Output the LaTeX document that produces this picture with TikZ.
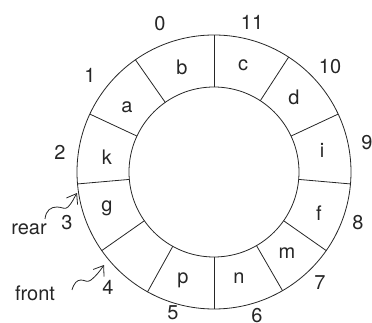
\documentclass[tikz,border=0pt]{standalone}
\usepackage{fontspec}
\setmainfont{TeX Gyre Heros}
\usetikzlibrary{arrows.meta}
\begin{document}
\begin{tikzpicture}[x=1pt,y=1pt,
  ring/.style={line width=0.8pt,draw=black!85},
  cell/.style={font=\fontsize{20}{22}\selectfont,text=black!85,inner sep=0pt},
  idx/.style={font=\fontsize{20}{22}\selectfont,text=black!85,inner sep=0pt},
  tag/.style={font=\fontsize{20}{22}\selectfont,text=black!85,inner sep=0pt},
  ptr/.style={line width=0.8pt,draw=black!85,-{Straight Barb[length=9pt,width=13pt]}}]
\useasboundingbox (-214,-151) rectangle (158,172);
\coordinate (O) at (0,0);
\draw[ring] (O) circle[radius=137];
\draw[ring] (O) circle[radius=85];
\foreach \a in {90,57,25,-5,-35,-60,-90,-119,-145,-175,155,125}
  \draw[ring] (\a:85) -- (\a:137);
% cell contents
\node[cell] (b) at (-32,105) {b};
\node[cell] (c) at (29,107) {c};
\node[cell] (d) at (80,75) {d};
\node[cell] (i) at (108,22) {i};
\node[cell] (f) at (105,-41) {f};
\node[cell] (m) at (73,-81) {m};
\node[cell] (n) at (25,-106) {n};
\node[cell] (p) at (-31,-108) {p};
\node[cell] (g) at (-107,-36) {g};
\node[cell] (k) at (-107,15) {k};
\node[cell] (a) at (-87,65) {a};
% indices
\node[idx] (i0) at (-54,148) {0};
\node[idx] (i11) at (38,150) {11};
\node[idx] (i10) at (116,105) {10};
\node[idx] (i9) at (153,29) {9};
\node[idx] (i8) at (144,-51) {8};
\node[idx] (i7) at (106,-111) {7};
\node[idx] (i6) at (43,-144) {6};
\node[idx] (i5) at (-41,-141) {5};
\node[idx] (i4) at (-106,-115) {4};
\node[idx] (i3) at (-147,-51) {3};
\node[idx] (i2) at (-154,20) {2};
\node[idx] (i1) at (-124,97) {1};
% pointers
\node[tag] (rear) at (-185,-57) {rear};
\node[tag] (front) at (-179,-121) {front};
\coordinate (rs) at (-169,-47);
\coordinate (rt) at (-137,-21);
\coordinate (fs) at (-142,-118);
\coordinate (ft) at (-110,-93);
\draw[ptr] (rs) .. controls (-168,-38) and (-163,-35) .. (-157,-35)
  .. controls (-152,-35) and (-149,-38) .. (-146,-35)
  .. controls (-142,-31) and (-140,-26) .. (rt);
\draw[ptr] (fs) .. controls (-140,-111) and (-137,-108) .. (-133,-108)
  .. controls (-129,-108) and (-127,-111) .. (-123,-108)
  .. controls (-118,-104) and (-114,-99) .. (ft);
\end{tikzpicture}
\end{document}
